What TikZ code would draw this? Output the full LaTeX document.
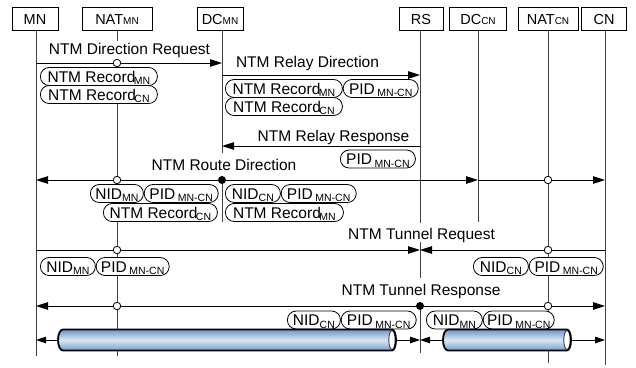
\documentclass[tikz,border=0pt]{standalone}
\usepackage{fontspec}
\setmainfont{Liberation Sans}
\usetikzlibrary{arrows.meta}
\newcommand{\lsub}[1]{\raisebox{-2.5pt}{\fontsize{10.5}{10.5}\selectfont #1}}
\newcommand{\hsub}[1]{{\fontsize{10}{10}\selectfont #1}}
\definecolor{tubeA}{HTML}{7196C2}
\definecolor{tubeB}{HTML}{D8E6F4}
\definecolor{tubeC}{HTML}{7A9CC6}
\definecolor{tubeEnd}{HTML}{2E3A78}
\begin{document}
\begin{tikzpicture}[x=1pt,y=-1pt,
  hdr/.style={draw,fill=white,line width=0.8pt,minimum height=23pt,inner sep=0pt,
    text height=10.5pt,text depth=0pt,font=\fontsize{14.5}{15}\selectfont},
  life/.style={draw=black!75,line width=1pt},
  msg/.style={draw=black,line width=0.9pt},
  tip/.style={-{Triangle[length=12pt,width=7.5pt]}},
  stip/.style={-{Triangle[length=10pt,width=6.5pt]}},
  lbl/.style={anchor=base,inner sep=0pt,font=\fontsize{15.5}{16}\selectfont},
  pill/.style={rectangle,rounded corners=8.8pt,draw,fill=white,line width=0.8pt,
    minimum height=18pt,inner xsep=3pt,inner ysep=0pt,anchor=west,
    font=\fontsize{15.5}{16}\selectfont,text height=11pt,text depth=0pt},
  ocirc/.style={circle,draw,fill=white,line width=0.8pt,inner sep=0pt,minimum size=7.5pt},
  fdot/.style={circle,fill=black,inner sep=0pt,minimum size=8pt},
  tubeshade/.style={top color=tubeA,bottom color=tubeC,middle color=tubeB},
]
\fill[white] (0,0) rectangle (636,367);
\useasboundingbox (0,0) rectangle (636,367);

% headers
\node[hdr,minimum width=46pt] (MN) at (35,19) {MN};
\node[hdr,minimum width=70pt] (NATMN) at (117,19) {NAT\hsub{MN}};
\node[hdr,minimum width=46pt] (DCMN) at (220,19) {DC\hsub{MN}};
\node[hdr,minimum width=44pt] (RS) at (421,19) {RS};
\node[hdr,minimum width=57pt] (DCCN) at (478,19) {DC\hsub{CN}};
\node[hdr,minimum width=60pt] (NATCN) at (548,19) {NAT\hsub{CN}};
\node[hdr,minimum width=45pt] (CN) at (604,19) {CN};

% lifeline x positions
\coordinate (xMN) at (36,0);
\coordinate (xNATMN) at (117,0);
\coordinate (xDCMN) at (222,0);
\coordinate (xRS) at (420,0);
\coordinate (xDCCN) at (478,0);
\coordinate (xNATCN) at (548,0);
\coordinate (xCN) at (605,0);

% row / break y positions
\coordinate (yTop) at (0,30.5);
\coordinate (r1) at (0,63);
\coordinate (r2) at (0,75);
\coordinate (r3) at (0,146);
\coordinate (r4) at (0,180);
\coordinate (r5) at (0,250);
\coordinate (r6) at (0,306);
\coordinate (r7) at (0,340);
\coordinate (y41) at (0,41);
\coordinate (y59) at (0,59);
\coordinate (y153) at (0,153);
\coordinate (y222) at (0,222);
\coordinate (y223) at (0,223);
\coordinate (y242) at (0,242);
\coordinate (y278) at (0,278);
\coordinate (b353) at (0,353);
\coordinate (b355) at (0,356);
\coordinate (b363) at (0,363);
\coordinate (b365) at (0,365);

% lifelines
\draw[life] (xMN|-yTop) -- (xMN|-b355);
\draw[life] (xNATMN|-yTop) -- (xNATMN|-y41);
\draw[life] (xNATMN|-y59) -- (xNATMN|-b355);
\draw[life] (xDCMN|-yTop) -- (xDCMN|-y153);
\draw[life] (xDCMN|-r4) -- (xDCMN|-y222);
\draw[life] (xRS|-yTop) -- (xRS|-y223);
\draw[life] (xRS|-y242) -- (xRS|-y278);
\draw[life] (xRS|-r6) -- (xRS|-b353);
\draw[life] (xDCCN|-yTop) -- (xDCCN|-y222);
\draw[life] (xNATCN|-yTop) -- (xNATCN|-b363);
\draw[life] (xCN|-yTop) -- (xCN|-b365);

% messages
\draw[msg,tip] (xMN|-r1) -- (xDCMN|-r1);
\draw[msg,tip] (xDCMN|-r2) -- (xRS|-r2);
\draw[msg,tip] (xRS|-r3) -- (xDCMN|-r3);
\draw[msg,tip] (xDCMN|-r4) -- (xMN|-r4);
\draw[msg,tip] (xDCMN|-r4) -- (xDCCN|-r4);
\draw[msg,tip] (xDCCN|-r4) -- (xCN|-r4);
\draw[msg,tip] (xMN|-r5) -- (xRS|-r5);
\draw[msg,tip] (xCN|-r5) -- (xRS|-r5);
\draw[msg,tip] (xRS|-r6) -- (xMN|-r6);
\draw[msg,tip] (xRS|-r6) -- (xCN|-r6);

% circles and dots
\node[ocirc] (c1) at (xNATMN|-r1) {};
\node[ocirc] (c2) at (xNATMN|-r4) {};
\node[ocirc] (c3) at (xNATCN|-r4) {};
\node[fdot] (d1) at (xDCMN|-r4) {};
\node[ocirc] (c4) at (xNATMN|-r5) {};
\node[ocirc] (c5) at (xNATCN|-r5) {};
\node[ocirc] (c6) at (xNATMN|-r6) {};
\node[ocirc] (c7) at (xNATCN|-r6) {};
\node[fdot] (d2) at (xRS|-r6) {};

% labels
\node[lbl] (l1) at (129.5,54) {NTM Direction Request};
\node[lbl] (l2) at (307.5,67) {NTM Relay Direction};
\node[lbl] (l3) at (333.5,141.5) {NTM Relay Response};
\node[lbl] (l4) at (224,170) {NTM Route Direction};
\node[lbl] (l5) at (421.5,239) {NTM Tunnel Request};
\node[lbl] (l6) at (421,295) {NTM Tunnel Response};

% pills
\node[pill,minimum width=117pt] (pA1) at (40,76.5) {NTM Record\kern-1.5pt\lsub{MN}};
\node[pill,minimum width=117pt] (pA2) at (40,94.5) {NTM Record\kern-1.5pt\lsub{CN}};

\node[pill,minimum width=117pt] (pB1) at (225,88.5) {NTM Record\kern-1.5pt\lsub{MN}};
\node[pill,minimum width=75pt] (pB2) at (pB1.east) {PID\,\lsub{MN-CN}};
\node[pill,minimum width=117pt] (pB3) at (225,106.5) {NTM Record\kern-1.5pt\lsub{CN}};

\node[pill,minimum width=75pt] (pC1) at (340,159) {PID\,\lsub{MN-CN}};

\node[pill,minimum width=53pt] (pD1) at (90,193.5) {NID\lsub{MN}};
\node[pill,minimum width=74pt] (pD2) at (pD1.east) {PID\,\lsub{MN-CN}};
\node[pill,minimum width=114pt] (pD3) at (103,212.5) {NTM Record\kern-1.5pt\lsub{CN}};
\node[pill,minimum width=55pt] (pD4) at (225,193.5) {NID\lsub{CN}};
\node[pill,minimum width=75pt] (pD5) at (pD4.east) {PID\,\lsub{MN-CN}};
\node[pill,minimum width=118pt] (pD6) at (225,212.5) {NTM Record\kern-1.5pt\lsub{MN}};

\node[pill,minimum width=55pt] (pE1) at (40,266.5) {NID\lsub{MN}};
\node[pill,minimum width=73pt] (pE2) at (pE1.east) {PID\,\lsub{MN-CN}};
\node[pill,minimum width=55pt] (pE3) at (473,266.5) {NID\lsub{CN}};
\node[pill,minimum width=74pt] (pE4) at (pE3.east) {PID\,\lsub{MN-CN}};

\node[pill,minimum width=53pt] (pF1) at (287,320) {NID\lsub{CN}};
\node[pill,minimum width=75pt] (pF2) at (pF1.east) {PID\,\lsub{MN-CN}};
\node[pill,minimum width=56pt] (pF3) at (426,320) {NID\lsub{MN}};
\node[pill,minimum width=71pt] (pF4) at (pF3.east) {PID\,\lsub{MN-CN}};

% tunnels
\coordinate (tLw) at (58,340);
\coordinate (tLe) at (396,340);
\coordinate (tRw) at (443,340);
\coordinate (tRe) at (571,340);

\draw[msg,stip] (tLw) -- (xMN|-r7);
\draw[msg,stip] (tLe) -- (xRS|-r7);
\draw[msg,stip] (tRw) -- (xRS|-r7);
\draw[msg,stip] (tRe) -- (xCN|-r7);

\shade[tubeshade] (63,329.5) -- (392,329.5) arc[start angle=90,end angle=-90,x radius=4pt,y radius=10.5pt]
  -- (63,350.5) arc[start angle=270,end angle=90,x radius=5pt,y radius=10.5pt] -- cycle;
\draw[draw=tubeEnd,fill=white,line width=0.9pt] (392,340) ellipse [x radius=3.2pt,y radius=9.5pt];
\draw[line width=1.8pt] (63,329.5) -- (392,329.5) arc[start angle=90,end angle=-90,x radius=4pt,y radius=10.5pt]
  -- (63,350.5) arc[start angle=270,end angle=90,x radius=5pt,y radius=10.5pt] -- cycle;

\shade[tubeshade] (448,329.5) -- (567,329.5) arc[start angle=90,end angle=-90,x radius=4pt,y radius=10.5pt]
  -- (448,350.5) arc[start angle=270,end angle=90,x radius=5pt,y radius=10.5pt] -- cycle;
\draw[draw=tubeEnd,fill=white,line width=0.9pt] (567,340) ellipse [x radius=3.2pt,y radius=9.5pt];
\draw[line width=1.8pt] (448,329.5) -- (567,329.5) arc[start angle=90,end angle=-90,x radius=4pt,y radius=10.5pt]
  -- (448,350.5) arc[start angle=270,end angle=90,x radius=5pt,y radius=10.5pt] -- cycle;
\end{tikzpicture}
\end{document}
